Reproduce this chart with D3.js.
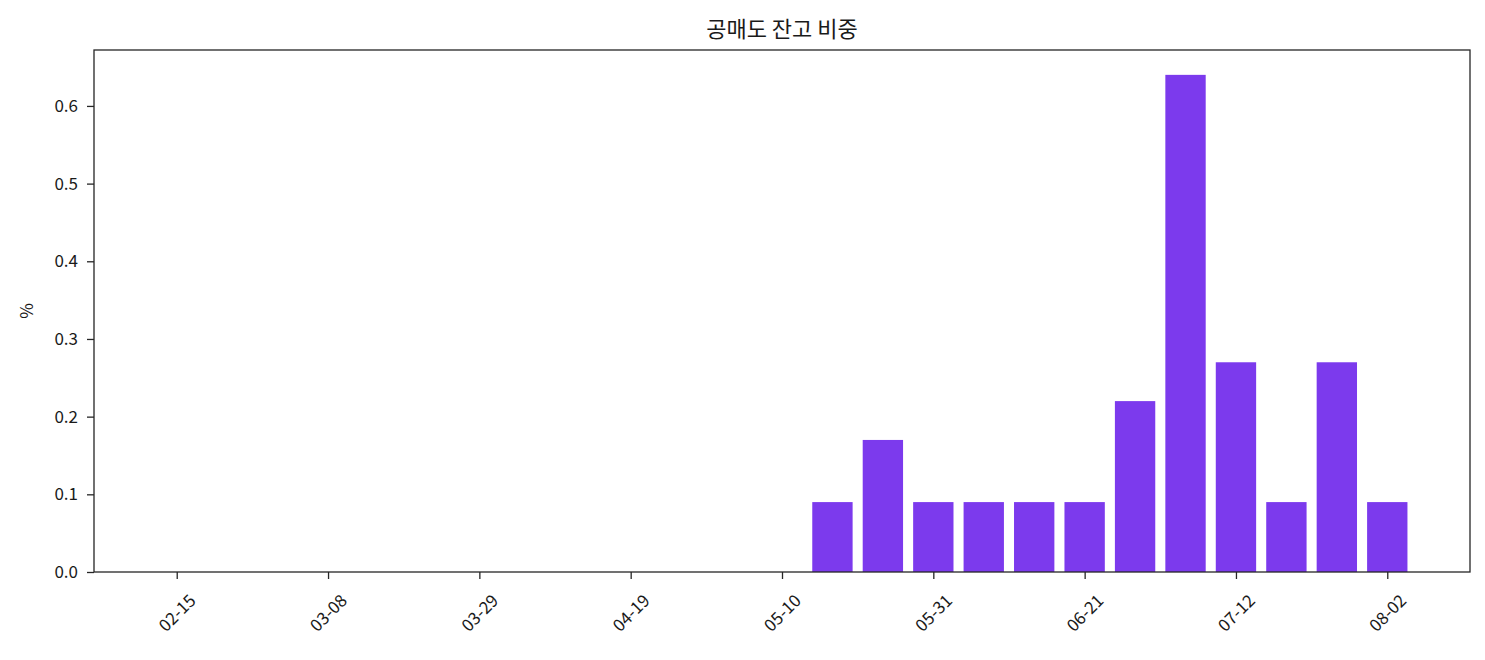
<!DOCTYPE html>
<html>
<head>
<meta charset="utf-8">
<script src="https://cdn.jsdelivr.net/npm/d3@7"></script>
<style>
  body { margin: 0; background: #fff; }
  text { font-family: "Noto Sans CJK KR", "Noto Sans", sans-serif; fill: #1a1a1a; }
</style>
</head>
<body>
<div id="chart"></div>
<script>
// weekly dates (year 2023)
var weeks = ["02-15","02-22","03-01","03-08","03-15","03-22","03-29","04-05","04-12",
  "04-19","04-26","05-03","05-10","05-17","05-24","05-31","06-07","06-14","06-21",
  "06-28","07-05","07-12","07-19","07-26","08-02"];
var ratio = [0,0,0,0,0,0,0,0,0,0,0,0,0,
  0.09,0.17,0.09,0.09,0.09,0.09,0.22,0.64,0.27,0.09,0.27,0.09];
var tickLabels = ["02-15","03-08","03-29","04-19","05-10","05-31","06-21","07-12","08-02"];
var yTicks = [0.0,0.1,0.2,0.3,0.4,0.5,0.6];

var W = 1485, H = 660;
var margin = {top: 50, right: 15, bottom: 88, left: 94};
var width = W - margin.left - margin.right;
var height = H - margin.top - margin.bottom;

var parse = function(s) { return d3.timeParse("%Y-%m-%d")("2023-" + s); };
var DAY = 864e5;
var barW = 0.8 * 7 * DAY;

var data = weeks.map(function(w, i) { return {date: parse(w), v: ratio[i]}; });

// matplotlib style 5% margins around bar edges
var lo = +data[0].date - barW / 2, hi = +data[data.length - 1].date + barW / 2;
var pad = (hi - lo) * 0.05;
var x = d3.scaleTime().domain([new Date(lo - pad), new Date(hi + pad)]).range([0, width]);

var ymax = d3.max(ratio) * 1.05;
var y = d3.scaleLinear().domain([0, ymax]).range([height, 0]);

var svg = d3.select("#chart").append("svg")
    .attr("width", W).attr("height", H)
  .append("g")
    .attr("transform", "translate(" + margin.left + "," + margin.top + ")");

// bars
svg.selectAll("rect.bar")
  .data(data.filter(function(d) { return d.v > 0; }))
  .enter().append("rect")
    .attr("class", "bar")
    .attr("x", function(d) { return x(new Date(+d.date - barW / 2)); })
    .attr("width", function(d) { return x(new Date(+d.date + barW / 2)) - x(new Date(+d.date - barW / 2)); })
    .attr("y", function(d) { return y(d.v); })
    .attr("height", function(d) { return height - y(d.v); })
    .attr("fill", "#7c3aed");

// x axis
var xAxis = svg.append("g")
  .attr("transform", "translate(0," + height + ")")
  .call(d3.axisBottom(x)
    .tickValues(tickLabels.map(parse))
    .tickFormat(d3.timeFormat("%m-%d"))
    .tickSize(7));
xAxis.select(".domain").remove();
xAxis.selectAll("line").attr("stroke", "#262626").attr("stroke-width", 1.3);
xAxis.selectAll("text")
  .attr("y", 0).attr("dy", "0.35em")
  .attr("transform", "translate(0,41) rotate(-45)")
  .style("text-anchor", "middle")
  .style("font-size", "17px");

// y axis
var yAxis = svg.append("g")
  .call(d3.axisLeft(y).tickValues(yTicks).tickFormat(d3.format(".1f")).tickSize(7).tickPadding(9));
yAxis.select(".domain").remove();
yAxis.selectAll("line").attr("stroke", "#262626").attr("stroke-width", 1.3);
yAxis.selectAll("text").style("font-size", "17px");

// frame
svg.append("rect")
  .attr("width", width).attr("height", height)
  .attr("fill", "none").attr("stroke", "#262626").attr("stroke-width", 1.3);

// title & label
svg.append("text")
  .attr("x", width / 2).attr("y", -13)
  .attr("text-anchor", "middle")
  .style("font-size", "22px")
  .text("공매도 잔고 비중");

svg.append("text")
  .attr("transform", "translate(" + (-67) + "," + (height / 2) + ") rotate(-90)")
  .attr("text-anchor", "middle")
  .attr("dy", "0.35em")
  .style("font-size", "17px")
  .text("%");
</script>
</body>
</html>
